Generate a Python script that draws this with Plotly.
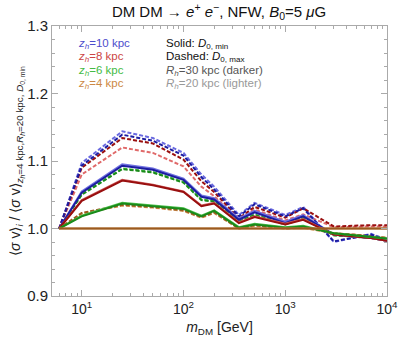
import numpy as np
import plotly.graph_objects as go

# DM masses [GeV]
mass = [6, 10, 25, 50, 100, 150, 200, 350, 500, 1000, 1500, 3000, 7000, 10000]

# ratio <sigma v>_i / <sigma v>_ref
zh10_rh30_min = [1, 1.053, 1.093, 1.087, 1.072, 1.047, 1.043, 1.013, 1.024, 1.008, 1.018, 0.991, 0.986, 0.982]
zh10_rh20_min = [1, 1.055, 1.095, 1.089, 1.074, 1.049, 1.045, 1.015, 1.026, 1.010, 1.020, 0.991, 0.986, 0.982]
zh10_rh30_max = [1, 1.093, 1.139, 1.130, 1.108, 1.076, 1.058, 1.018, 1.036, 1.018, 1.030, 0.981, 0.991, 0.982]
zh10_rh20_max = [1, 1.097, 1.144, 1.134, 1.112, 1.080, 1.062, 1.020, 1.038, 1.020, 1.032, 0.980, 0.992, 0.983]

zh8_rh30_min = [1, 1.041, 1.071, 1.064, 1.054, 1.033, 1.037, 1.008, 1.017, 1.006, 1.013, 0.991, 0.986, 0.982]
zh8_rh20_min = [1, 1.042, 1.072, 1.065, 1.055, 1.034, 1.038, 1.009, 1.018, 1.007, 1.014, 0.991, 0.986, 0.982]
zh8_rh30_max = [1, 1.090, 1.134, 1.126, 1.102, 1.070, 1.054, 1.015, 1.032, 1.016, 1.030, 1.003, 1.005, 1.005]
zh8_rh20_max = [1, 1.080, 1.120, 1.112, 1.092, 1.062, 1.048, 1.012, 1.028, 1.012, 1.021, 1.002, 1.003, 1.003]

zh6_rh30_min = [1, 1.018, 1.037, 1.033, 1.029, 1.018, 1.026, 1.001, 1.006, 1.001, 1.003, 0.993, 0.988, 0.985]
zh6_rh20_min = [1, 1.019, 1.038, 1.034, 1.030, 1.019, 1.027, 1.002, 1.007, 1.002, 1.004, 0.993, 0.988, 0.985]
zh6_rh30_max = [1, 1.050, 1.088, 1.083, 1.068, 1.042, 1.040, 1.010, 1.020, 1.006, 1.015, 0.990, 0.986, 0.982]
zh6_rh20_max = [1, 1.051, 1.089, 1.084, 1.069, 1.043, 1.041, 1.011, 1.021, 1.007, 1.016, 0.990, 0.986, 0.982]

zh4_rh30_min = [1, 1.0, 1.0, 1.0, 1.0, 1.0, 1.0, 1.0, 1.0, 1.0, 1.0, 1.0, 1.0, 1.0]
zh4_rh20_min = [1, 1.0, 1.0, 1.0, 1.0, 1.0, 1.0, 1.0, 1.0, 1.0, 1.0, 1.0, 1.0, 1.0]
zh4_rh30_max = [1, 1.023, 1.035, 1.032, 1.027, 1.017, 1.024, 1.000, 1.005, 1.000, 1.002, 0.993, 0.989, 0.986]
zh4_rh20_max = [1, 1.022, 1.034, 1.031, 1.026, 1.016, 1.023, 1.000, 1.004, 1.000, 1.001, 0.993, 0.989, 0.986]

# (values, colour, dashed) - lighter (Rh=20) first, darker on top
series = [
    (zh6_rh20_max, "#4fc24f", True), (zh6_rh30_max, "#1a8a1a", True),
    (zh4_rh20_max, "#d09050", True), (zh4_rh30_max, "#9a5a20", True),
    (zh8_rh20_max, "#e06a6a", True), (zh10_rh20_max, "#6a6ae0", True),
    (zh8_rh30_max, "#990f0f", True), (zh10_rh30_max, "#1c1ca0", True),
    (zh10_rh20_min, "#7070e0", False), (zh10_rh30_min, "#1c1ca0", False),
    (zh8_rh20_min, "#d06060", False), (zh8_rh30_min, "#990f0f", False),
    (zh6_rh20_min, "#4fc24f", False), (zh6_rh30_min, "#1a8a1a", False),
    (zh4_rh20_min, "#d09050", False), (zh4_rh30_min, "#9a5a20", False),
]

fig = go.Figure()
for vals, col, dashed in series:
    fig.add_scatter(
        x=mass, y=vals, mode="lines",
        line=dict(color=col, width=2, dash="4px,2px" if dashed else "solid"),
        showlegend=False, hoverinfo="skip",
    )

font = "Liberation Sans, Arial, sans-serif"

# legend-like text block
left = [
    ("<i>z<sub>h</sub></i>=10 kpc", "#4d4dcc"),
    ("<i>z<sub>h</sub></i>=8 kpc", "#cc4444"),
    ("<i>z<sub>h</sub></i>=6 kpc", "#44bb44"),
    ("<i>z<sub>h</sub></i>=4 kpc", "#cc8844"),
]
right = [
    ("Solid: <i>D</i><sub>0, min</sub>", "#111111"),
    ("Dashed: <i>D</i><sub>0, max</sub>", "#111111"),
    ("<i>R<sub>h</sub></i>=30 kpc (darker)", "#555555"),
    ("<i>R<sub>h</sub></i>=20 kpc (lighter)", "#999999"),
]
ys = [0.932, 0.884, 0.834, 0.785]
for (t, c), y in zip(left, ys):
    fig.add_annotation(xref="paper", yref="paper", x=0.073, y=y, text=t,
                       showarrow=False, xanchor="left", yanchor="middle",
                       font=dict(color=c, size=11.5, family=font))
for (t, c), y in zip(right, ys):
    fig.add_annotation(xref="paper", yref="paper", x=0.333, y=y, text=t,
                       showarrow=False, xanchor="left", yanchor="middle",
                       font=dict(color=c, size=11.5, family=font))

minor_x = [m * 10 ** d for d in range(0, 4) for m in range(2, 10) if 5 <= m * 10 ** d <= 1e4]

axis_common = dict(
    showline=True, linecolor="#aaaaaa", linewidth=1, mirror="ticks",
    ticks="inside", tickcolor="#aaaaaa", ticklen=6, showgrid=False, zeroline=False,
    automargin=False,
)
fig.update_xaxes(
    type="log", range=[np.log10(5.1), 4],
    tickvals=[10, 100, 1000, 10000],
    ticktext=["10<sup>1</sup>", "10<sup>2</sup>", "10<sup>3</sup>", "10<sup>4</sup>"],
    tickfont=dict(size=14, color="#222222", family=font),
    minor=dict(tickvals=minor_x, ticks="inside", ticklen=3, tickcolor="#aaaaaa"),
    title=dict(text="<i>m</i><sub>DM</sub> [GeV]", font=dict(size=14, color="#222222", family=font),
               standoff=6),
    **axis_common,
)
fig.update_yaxes(
    range=[0.9, 1.3], tickvals=[0.9, 1.0, 1.1, 1.2, 1.3],
    ticktext=["0.9", "1.0", "1.1", "1.2", "1.3"],
    tickfont=dict(size=15, color="#222222", family=font),
    minor=dict(dtick=0.02, ticks="inside", ticklen=3, tickcolor="#aaaaaa"),
    title=dict(
        text="⟨<i>σ</i> v⟩<sub><i>i</i></sub> / ⟨<i>σ</i> v⟩<sub><i>z<sub>h</sub></i>=4 kpc,<i>R<sub>h</sub></i>=20 kpc, <i>D</i><sub>0, min</sub></sub>",
        font=dict(size=14, color="#222222", family=font), standoff=3),
    **axis_common,
)

fig.update_layout(
    width=399, height=340,
    margin=dict(l=52, r=12, t=26, b=44),
    paper_bgcolor="white", plot_bgcolor="white",
    title=dict(
        text="DM DM → <i>e</i><sup>+</sup> <i>e</i><sup>−</sup>, NFW, <i>B</i><sub>0</sub>=5 <i>μ</i>G",
        x=0.549, xanchor="center", y=0.965, yanchor="middle",
        font=dict(size=15, color="#111111", family=font),
    ),
)

# page body has an 8px default margin; drop it so the figure fills the window
fig.write_html("out.html", config={"displayModeBar": False},
               post_script="document.body.style.margin='0';")
